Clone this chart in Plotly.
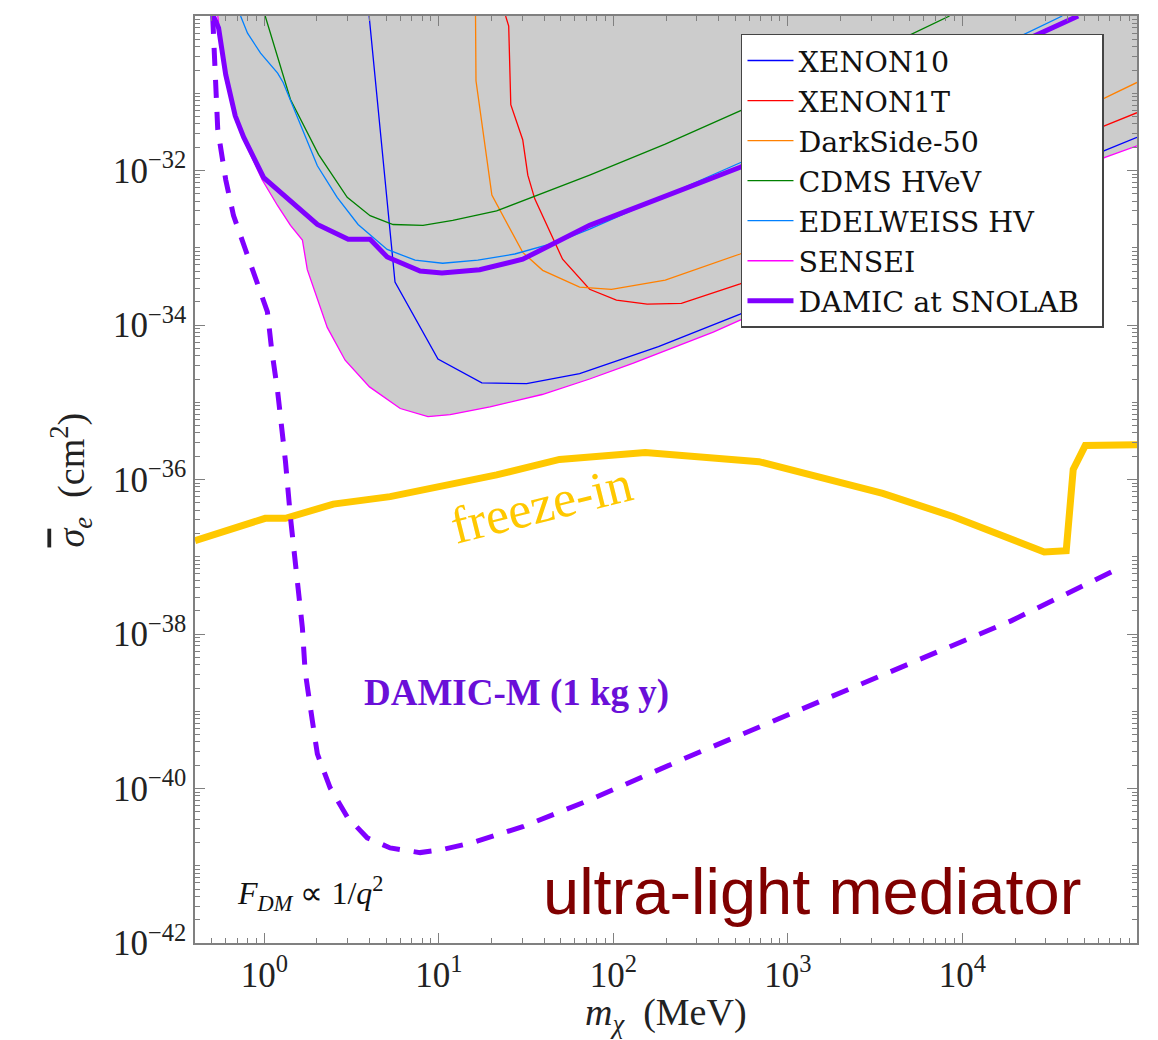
import plotly.graph_objects as go

# ---------------- data (mass in MeV, cross-section in cm^2) ----------------
xenon10_m = [3.98, 5.6, 9.87, 17.6, 31.8, 64, 181, 532, 65600, 1e5]
xenon10_s = [1e-30, 3.59e-34, 3.63e-35, 1.78e-35, 1.74e-35, 2.34e-35, 5.25e-35, 1.38e-34, 1.82e-32, 2.69e-32]

xenon1t_m = [24.1, 25.1, 25.8, 30.2, 32.3, 35.4, 51.1, 73, 104, 156, 245, 532, 65600, 1e5]
xenon1t_s = [1e-30, 7.4e-31, 7.1e-32, 2.5e-32, 8.7e-33, 4.3e-33, 7.1e-34, 2.9e-34, 2.1e-34,
             1.86e-34, 1.9e-34, 3.4e-34, 3.8e-32, 5.6e-32]

darkside_m = [16.2, 16.3, 20.1, 30.2, 39.3, 64, 97.4, 198, 532, 65600, 1e5]
darkside_s = [1e-30, 1.45e-31, 4.8e-33, 8.7e-34, 5.1e-34, 3.1e-34, 2.9e-34, 3.8e-34, 8.3e-34, 8.7e-32, 1.38e-31]

cdms_m = [1.01, 1.41, 2.04, 2.98, 4.03, 5.46, 8.1, 12.0, 21.4, 34.4, 73, 198, 532, 4365, 8430]
cdms_s = [1e-30, 8.3e-32, 1.62e-32, 4.5e-33, 2.6e-33, 2.0e-33, 1.95e-33, 2.26e-33, 3.0e-33,
          4.5e-33, 8.7e-33, 2.19e-32, 5.9e-32, 4.9e-31, 1e-30]

edelweiss_m = [0.73, 0.80, 0.95, 1.19, 1.28, 2.01, 2.61, 3.44, 5.05, 7.3, 10.5, 16.7, 27.2, 47, 73,
               532, 19300, 37300]
edelweiss_s = [1e-30, 6.0e-31, 3.3e-31, 1.82e-31, 1.38e-31, 1.15e-32, 4.5e-33, 2.0e-33, 9.5e-34,
               6.9e-34, 6.3e-34, 6.9e-34, 8.3e-34, 1.17e-33, 1.74e-33, 1.26e-32, 4.9e-31, 1e-30]

sensei_m = [0.54, 0.60, 0.68, 0.76, 0.97, 1.19, 1.41, 1.65, 1.76, 1.96, 2.29, 2.9, 4.0, 6.0, 8.65,
            11.6, 19.6, 39, 73, 130, 373, 65600, 1e5]
sensei_s = [1e-30, 1.45e-31, 5.1e-32, 2.5e-32, 7.6e-33, 3.5e-33, 1.95e-33, 1.26e-33, 5.2e-34,
            2.5e-34, 9.3e-35, 3.5e-35, 1.58e-35, 8.3e-36, 6.5e-36, 6.9e-36, 8.7e-36, 1.26e-35,
            2.0e-35, 3.2e-35, 8.1e-35, 1.48e-32, 2.09e-32]

snolab_m = [0.51, 0.546, 0.60, 0.68, 0.76, 0.99, 2.01, 3.02, 4.03, 5.05, 7.8, 10.4, 17.1, 30.2, 73,
            532, 22600, 46000]
snolab_s = [1e-30, 7.0e-31, 1.74e-31, 5.1e-32, 2.7e-32, 8.1e-33, 2.0e-33, 1.29e-33, 1.29e-33,
            7.6e-34, 5.0e-34, 4.7e-34, 5.2e-34, 7.1e-34, 1.95e-33, 1.10e-32, 4.8e-31, 1e-30]

damicm_m = [0.505, 0.51, 0.54, 0.60, 0.665, 0.778, 1.04, 1.10, 1.19, 1.32, 1.41, 1.65, 1.71, 1.88,
            2.01, 2.38, 2.98, 3.88, 5.25, 7.8, 10.5, 15.6, 30.2, 73, 261, 19000, 80000]
damicm_s = [1e-30, 5.5e-31, 3.4e-32, 7.6e-33, 2.6e-33, 9.5e-34, 1.48e-34, 4.8e-35, 1.38e-35,
            1.7e-36, 3.2e-37, 1.2e-38, 3.3e-39, 7.6e-40, 2.8e-40, 1.02e-40, 4.3e-41, 2.3e-41,
            1.7e-41, 1.48e-41, 1.62e-41, 2.0e-41, 3.2e-41, 7.1e-41, 2.5e-40, 1.48e-38, 7.2e-38]

freeze_m = [0.4, 1.01, 1.32, 2.48, 5.25, 10.5, 21.4, 49.1, 152, 682, 3490, 8890, 29400, 39300,
            42000, 43100, 50500, 1e5]
freeze_s = [1.62e-37, 3.14e-37, 3.14e-37, 4.8e-37, 6.0e-37, 8.1e-37, 1.15e-36, 1.82e-36, 2.24e-36,
            1.70e-36, 6.6e-37, 3.3e-37, 1.15e-37, 1.20e-37, 5.2e-37, 1.35e-36, 2.75e-36, 2.82e-36]

x_tick_vals = [1, 10, 100, 1000, 10000]
x_tick_text = ["10<sup>0</sup>", "10<sup>1</sup>", "10<sup>2</sup>", "10<sup>3</sup>", "10<sup>4</sup>"]
y_tick_vals = [1e-42, 1e-40, 1e-38, 1e-36, 1e-34, 1e-32]
y_tick_text = ["10<sup>−42</sup>", "10<sup>−40</sup>", "10<sup>−38</sup>", "10<sup>−36</sup>",
               "10<sup>−34</sup>", "10<sup>−32</sup>"]

SERIF = "Liberation Serif"

# minor ticks
x_minor = [k * 10.0 ** n for n in range(-1, 5) for k in range(1, 10)
           if 0.4 <= k * 10.0 ** n <= 1e5 and (k * 10.0 ** n) not in x_tick_vals]
y_minor = [k * 10.0 ** n for n in range(-42, -30) for k in range(1, 10)
           if not (k == 1 and n % 2 == 0)]

fig = go.Figure()

# excluded region (above the strongest limit)
fig.add_trace(go.Scatter(
    x=sensei_m + [1e5, sensei_m[0]], y=sensei_s + [1e-30, 1e-30],
    fill="toself", fillcolor="#cccccc", mode="lines", line=dict(width=0),
    showlegend=False, hoverinfo="skip"))

fig.add_trace(go.Scatter(x=freeze_m, y=freeze_s, mode="lines",
                         line=dict(color="#ffc800", width=7), showlegend=False))
fig.add_trace(go.Scatter(x=damicm_m, y=damicm_s, mode="lines",
                         line=dict(color="#8000ff", width=5, dash="18px,14px"), showlegend=False))

series = [
    ("XENON10", xenon10_m, xenon10_s, "#0000ff", 1.3),
    ("XENON1T", xenon1t_m, xenon1t_s, "#ff0000", 1.3),
    ("DarkSide-50", darkside_m, darkside_s, "#ff8000", 1.3),
    ("CDMS HVeV", cdms_m, cdms_s, "#008000", 1.3),
    ("EDELWEISS HV", edelweiss_m, edelweiss_s, "#0080ff", 1.3),
    ("SENSEI", sensei_m, sensei_s, "#ff00ff", 1.3),
    ("DAMIC at SNOLAB\u00a0\u00a0", snolab_m, snolab_s, "#8000ff", 5),
]
for name, m, s, c, w in series:
    fig.add_trace(go.Scatter(x=m, y=s, mode="lines", name=name, line=dict(color=c, width=w)))

axis_common = dict(
    type="log", showgrid=False, zeroline=False, showline=True, linecolor="#808080", linewidth=1.5,
    mirror="allticks", ticks="inside", ticklen=10, tickwidth=1, tickcolor="#808080",
    tickfont=dict(family=SERIF, size=35, color="#222222"),
)

fig.update_xaxes(**axis_common, range=[-0.39794, 5.0], tickmode="array",
                 tickvals=x_tick_vals, ticktext=x_tick_text,
                 minor=dict(tickmode="array", tickvals=x_minor, ticks="inside", ticklen=5,
                            tickcolor="#808080", tickwidth=1))
fig.update_yaxes(**axis_common, range=[-42, -30], tickmode="array",
                 tickvals=y_tick_vals, ticktext=y_tick_text,
                 minor=dict(tickmode="array", tickvals=y_minor, ticks="inside", ticklen=5,
                            tickcolor="#808080", tickwidth=1))

annotations = [
    dict(x=1.589, y=-36.32, xref="x", yref="y", text="freeze-in", showarrow=False, textangle=-14,
         xanchor="center", yanchor="middle",
         font=dict(family=SERIF, size=52, color="#ffc800")),
    dict(x=1.446, y=-38.77, xref="x", yref="y", text="<b>DAMIC-M (1 kg y)</b>", showarrow=False,
         xanchor="center", yanchor="middle",
         font=dict(family=SERIF, size=37, color="#6a0fd8")),
    dict(x=0.263, y=-41.36, xref="x", yref="y",
         text="<i>F</i><sub><i>DM</i></sub> ∝ 1/<i>q</i><sup>2</sup>", showarrow=False,
         xanchor="center", yanchor="middle",
         font=dict(family=SERIF, size=32, color="#111111")),
    dict(x=3.14, y=-41.33, xref="x", yref="y", text="ultra-light mediator", showarrow=False,
         xanchor="center", yanchor="middle",
         font=dict(family="Liberation Sans", size=65, color="#800000")),
    dict(x=-0.1317, y=0.5, xref="paper", yref="paper",
         text="<span style=\"text-decoration:overline\"><i>σ</i></span><sub><i>e</i></sub>\u00a0\u00a0(cm<sup>2</sup>)",
         showarrow=False, textangle=-90, xanchor="center", yanchor="middle",
         font=dict(family=SERIF, size=38, color="#222222")),
    dict(x=0.5, y=-0.0775, xref="paper", yref="paper",
         text="<i>m</i><sub><i>χ</i></sub>\u00a0\u00a0(MeV)", showarrow=False,
         xanchor="center", yanchor="middle",
         font=dict(family=SERIF, size=38, color="#222222")),
]

fig.update_layout(
    width=1158, height=1040,
    margin=dict(l=195, r=21, t=16, b=97),
    paper_bgcolor="white", plot_bgcolor="white",
    annotations=annotations,
    legend=dict(x=0.5796, y=0.9806, xanchor="left", yanchor="top", itemwidth=46,
                bgcolor="white", bordercolor="#444444", borderwidth=1.5,
                font=dict(family="DejaVu Serif", size=28.5, color="#111111")),
)

fig.write_html("out.html")
